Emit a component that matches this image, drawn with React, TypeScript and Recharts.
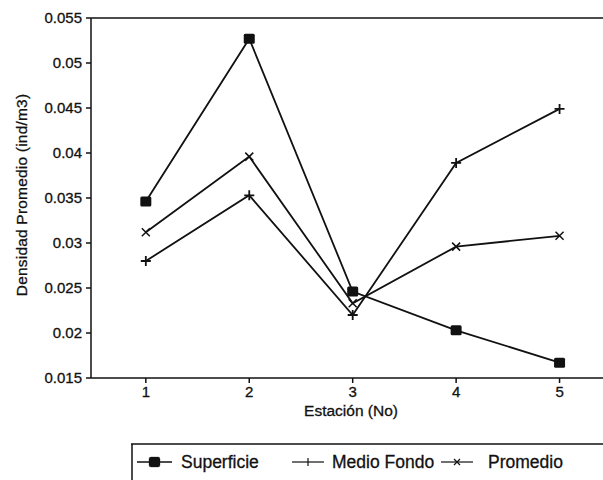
import React from "react";
import {
  LineChart,
  Line,
  XAxis,
  YAxis,
  ReferenceLine,
} from "recharts";

const estaciones = [1, 2, 3, 4, 5];
const superficie = [0.0346, 0.0527, 0.0246, 0.0203, 0.0167];
const medioFondo = [0.028, 0.0353, 0.022, 0.0389, 0.0449];
const promedio = [0.0312, 0.0396, 0.0233, 0.0296, 0.0308];
const yTicks = [0.015, 0.02, 0.025, 0.03, 0.035, 0.04, 0.045, 0.05, 0.055];

const data = estaciones.map((e, i) => ({
  estacion: e,
  superficie: superficie[i],
  medioFondo: medioFondo[i],
  promedio: promedio[i],
}));

const FONT = "'Liberation Sans', Arial, sans-serif";
const INK = "#111";

function SquareDot(props: any) {
  const { cx, cy, index } = props;
  if (cx == null || cy == null) return null;
  return <rect key={`s${index}`} x={cx - 5.5} y={cy - 5} width={11} height={10} rx={1.5} fill={INK} />;
}

function PlusDot(props: any) {
  const { cx, cy, index } = props;
  if (cx == null || cy == null) return null;
  return (
    <path
      key={`p${index}`}
      d={`M${cx - 5},${cy} L${cx + 5},${cy} M${cx},${cy - 5} L${cx},${cy + 5}`}
      stroke={INK}
      strokeWidth={1.8}
    />
  );
}

function CrossDot(props: any) {
  const { cx, cy, index } = props;
  if (cx == null || cy == null) return null;
  return (
    <path
      key={`x${index}`}
      d={`M${cx - 4},${cy - 4} L${cx + 4},${cy + 4} M${cx - 4},${cy + 4} L${cx + 4},${cy - 4}`}
      stroke={INK}
      strokeWidth={1.5}
    />
  );
}

function YLabel() {
  const cx = 21;
  const cy = 195;
  return (
    <text
      x={cx}
      y={cy}
      transform={`rotate(-90 ${cx} ${cy})`}
      textAnchor="middle"
      dominantBaseline="central"
      fontFamily={FONT}
      fontSize={15.5}
      letterSpacing={0.2}
      fill={INK}
      stroke={INK}
      strokeWidth={0.3}
    >
      Densidad Promedio (ind/m3)
    </text>
  );
}

function LegendBox() {
  return (
    <svg
      width={472}
      height={37}
      style={{ position: "absolute", left: 131, top: 443 }}
    >
      <line x1={0} y1={1} x2={472} y2={1} stroke={INK} strokeWidth={1.5} />
      <line x1={1} y1={1} x2={1} y2={37} stroke={INK} strokeWidth={1.5} />
      <g fontFamily={FONT} fontSize={17.5} fill={INK} stroke={INK} strokeWidth={0.3}>
        <line x1={6} y1={19} x2={41} y2={19} stroke={INK} strokeWidth={1.5} />
        <rect x={18} y={14} width={11} height={10} rx={2} fill={INK} />
        <text x={50} y={25}>Superficie</text>

        <line x1={161} y1={19} x2={193} y2={19} stroke={INK} strokeWidth={1.2} />
        <path d="M177,15 L177,23" stroke={INK} strokeWidth={1.2} />
        <text x={201} y={25}>Medio Fondo</text>

        <line x1={310} y1={19} x2={342} y2={19} stroke={INK} strokeWidth={1.2} />
        <path d="M323,16 L329,22 M323,22 L329,16" stroke={INK} strokeWidth={1.2} />
        <text x={357} y={25}>Promedio</text>
      </g>
    </svg>
  );
}

export default function App() {
  const tickStyle = { fill: INK, fontSize: 15, fontFamily: FONT, stroke: INK, strokeWidth: 0.3 };
  return (
    <div
      style={{
        position: "absolute",
        left: 0,
        top: 0,
        width: 603,
        height: 480,
        background: "#fff",
        overflow: "hidden",
      }}
    >
      <LineChart
        width={603}
        height={480}
        data={data}
        margin={{ top: 18, right: 0, bottom: 0, left: 0 }}
      >
        <XAxis
          dataKey="estacion"
          type="number"
          domain={[0.47, 5.42]}
          ticks={estaciones}
          allowDataOverflow
          height={102}
          stroke={INK}
          strokeWidth={1.5}
          tickSize={5}
          tickMargin={3}
          tick={tickStyle}
          label={{
            value: "Estación (No)",
            position: "insideTop",
            offset: 27,
            dx: 4,
            fill: INK,
            stroke: INK,
            strokeWidth: 0.3,
            fontSize: 15.5,
            fontFamily: FONT,
          }}
        />
        <YAxis
          type="number"
          domain={[0.015, 0.055]}
          ticks={yTicks}
          width={91}
          stroke={INK}
          strokeWidth={1.5}
          tickSize={5}
          tickMargin={4}
          tick={tickStyle}
          tickFormatter={(v: number) => String(Number(v.toFixed(3)))}
          label={<YLabel />}
        />
        <ReferenceLine y={0.055} stroke={INK} strokeWidth={1.5} />
        <Line
          dataKey="superficie"
          stroke={INK}
          strokeWidth={1.8}
          dot={SquareDot}
          isAnimationActive={false}
        />
        <Line
          dataKey="medioFondo"
          stroke={INK}
          strokeWidth={1.8}
          dot={PlusDot}
          isAnimationActive={false}
        />
        <Line
          dataKey="promedio"
          stroke={INK}
          strokeWidth={1.8}
          dot={CrossDot}
          isAnimationActive={false}
        />
      </LineChart>
      <LegendBox />
    </div>
  );
}
